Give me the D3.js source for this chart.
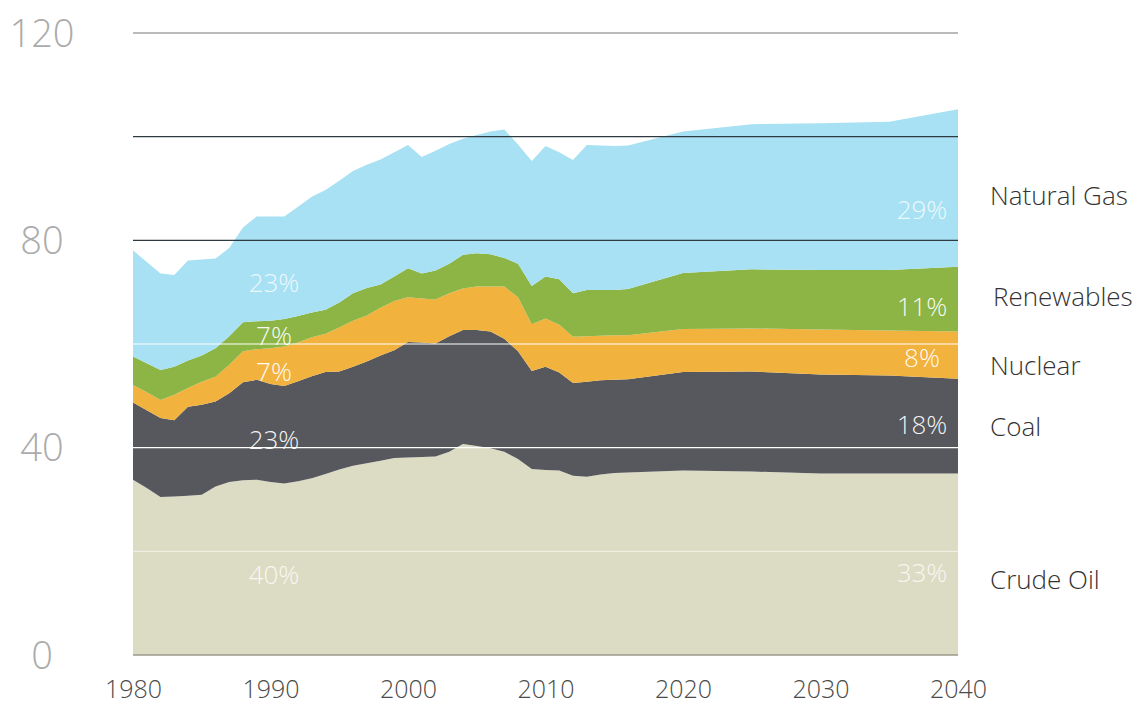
<!DOCTYPE html>
<html>
<head>
<meta charset="utf-8">
<script src="https://cdn.jsdelivr.net/npm/d3@7"></script>
<style>
  body { margin: 0; background: #fff; }
  text { font-family: "Open Sans", "Noto Sans", sans-serif; }
</style>
</head>
<body>
<div id="chart"></div>
<script>
// years: annual history, then projections every 5 years
let years = [1980,1981,1982,1983,1984,1985,1986,1987,1988,1989,
  1990,1991,1992,1993,1994,1995,1996,1997,1998,1999,
  2000,2001,2002,2003,2004,2005,2006,2007,2008,2009,
  2010,2011,2012,2013,2014,2015,2016,2020,2025,2030,2035,2040];

let crudeOil = [33.8,32.2,30.5,30.6,30.7,30.9,32.5,33.4,33.7,33.8,
  33.4,33.1,33.5,34.1,34.9,35.8,36.5,37.0,37.5,38.0,
  38.1,38.2,38.3,39.2,40.7,40.3,39.9,39.2,37.8,35.9,
  35.7,35.6,34.6,34.4,34.8,35.1,35.2,35.6,35.4,35.0,35.0,35.0];
let coal = [14.9,15.0,15.2,14.7,17.2,17.4,16.4,17.1,18.9,19.3,
  18.9,18.8,19.3,19.7,19.7,18.9,19.1,19.6,20.3,20.8,
  22.3,22.1,21.8,22.3,22.0,22.4,22.5,21.8,20.8,18.9,
  19.9,18.9,17.9,18.3,18.2,18.0,18.0,19.0,19.3,19.1,18.9,18.3];
let nuclear = [3.4,3.5,3.5,4.9,3.6,4.4,4.8,5.5,6.0,5.9,
  6.9,7.6,7.5,7.5,7.4,8.5,8.9,8.9,9.2,9.5,
  8.6,8.5,8.5,8.3,8.0,8.4,8.7,10.1,10.4,9.0,
  9.3,9.2,8.9,8.8,8.6,8.6,8.5,8.3,8.3,8.7,8.7,9.1];
let renewables = [5.5,5.6,5.8,5.4,5.3,5.1,5.5,5.5,5.6,5.4,
  5.3,5.3,5.1,4.8,4.6,4.8,5.3,5.3,4.5,4.7,
  5.6,4.8,5.6,5.7,6.5,6.4,6.2,5.5,6.5,7.4,
  8.1,8.8,8.4,8.9,8.8,8.7,8.9,10.8,11.4,11.5,11.7,12.5];
let naturalGas = [20.5,19.5,18.6,17.7,19.3,18.5,17.3,17.0,18.3,20.2,
  20.1,19.8,21.1,22.3,23.1,23.5,23.6,23.8,24.1,24.0,
  23.8,22.5,23.1,23.1,22.4,22.8,23.7,24.8,23.0,24.1,
  25.2,24.5,25.7,28.0,27.9,27.8,27.7,27.3,28.0,28.3,28.6,30.4];

let seriesNames = ["Crude Oil", "Coal", "Nuclear", "Renewables", "Natural Gas"];
let seriesColors = ["#dcdbc3", "#56585d", "#f2b23e", "#8cb545", "#a7e1f3"];
let sharesStart = ["40%", "23%", "7%", "7%", "23%"];
let sharesEnd = ["33%", "18%", "8%", "11%", "29%"];
let yTicks = [0, 40, 80, 120];
let xTicks = [1980, 1990, 2000, 2010, 2020, 2030, 2040];

let svgWidth = 1142;
let svgHeight = 707;

let svg = d3.select("#chart")
  .append("svg")
  .attr("width", svgWidth)
  .attr("height", svgHeight);

let xScale = d3.scaleLinear().domain([1980, 2040]).range([133, 958]);
let yScale = d3.scaleLinear().domain([0, 120]).range([655, 33]);

// build a table for the stack
let allSeries = [crudeOil, coal, nuclear, renewables, naturalGas];
let table = years.map((yr, i) => {
  let row = { year: yr };
  seriesNames.forEach((n, k) => row[n] = allSeries[k][i]);
  return row;
});

let stacked = d3.stack().keys(seriesNames)(table);

let area = d3.area()
  .x(d => xScale(d.data.year))
  .y0(d => yScale(d[0]))
  .y1(d => yScale(d[1]));

svg.append("g").selectAll("path")
  .data(stacked)
  .enter()
  .append("path")
  .attr("d", area)
  .attr("fill", (d, i) => seriesColors[i]);

// gridlines drawn over the areas: dark at the top, white inside the stack
let gridVals = [20, 40, 60, 80, 100, 120];
svg.append("g").selectAll("line")
  .data(gridVals)
  .enter()
  .append("line")
  .attr("x1", xScale(1980))
  .attr("x2", xScale(2040))
  .attr("y1", d => yScale(d))
  .attr("y2", d => yScale(d))
  .attr("stroke", d => d >= 80 ? (d == 120 ? "#777" : "#2f3a40") : "#ffffff")
  .attr("stroke-width", d => d == 20 ? 0.8 : 1.1)
  .attr("stroke-opacity", d => d == 20 ? 0.8 : 1);

// baseline
svg.append("line")
  .attr("x1", xScale(1980))
  .attr("x2", xScale(2040))
  .attr("y1", yScale(0))
  .attr("y2", yScale(0))
  .attr("stroke", "#9a9a8a")
  .attr("stroke-width", 1.5);

// y axis labels
let yAxis = d3.axisLeft(yScale).tickValues(yTicks).tickSize(0).tickPadding(0);
let yG = svg.append("g").attr("transform", "translate(42,0)").call(yAxis);
yG.select(".domain").remove();
yG.selectAll("text")
  .attr("text-anchor", "middle")
  .attr("font-size", "38px")
  .attr("font-weight", 300)
  .attr("fill", "#ababab")
  .attr("dy", "0.35em");

// x axis labels
let xAxis = d3.axisBottom(xScale).tickValues(xTicks).tickFormat(d3.format("d")).tickSize(0).tickPadding(0);
let xG = svg.append("g").attr("transform", "translate(0,698)").call(xAxis);
xG.select(".domain").remove();
xG.selectAll("text")
  .attr("font-size", "25px")
  .attr("font-weight", 300)
  .attr("fill", "#4a4a4a")
  .attr("dy", "0");

// share labels around 1990 (inside each layer)
let startY = [575, 440, 372, 336, 283];
svg.append("g").selectAll("text")
  .data(sharesStart)
  .enter()
  .append("text")
  .attr("x", 274)
  .attr("y", (d, i) => startY[i])
  .attr("text-anchor", "middle")
  .attr("dy", "0.36em")
  .attr("font-size", "26px")
  .attr("font-weight", 300)
  .attr("fill", "#ffffff")
  .attr("fill-opacity", (d, i) => i == 0 || i == 4 ? 0.8 : 0.95)
  .text(d => d);

// share labels near 2040
let endY = [573, 425, 358, 307, 210];
svg.append("g").selectAll("text")
  .data(sharesEnd)
  .enter()
  .append("text")
  .attr("x", 922)
  .attr("y", (d, i) => endY[i])
  .attr("text-anchor", "middle")
  .attr("dy", "0.36em")
  .attr("font-size", "26px")
  .attr("font-weight", 300)
  .attr("fill", "#ffffff")
  .attr("fill-opacity", (d, i) => i == 0 || i == 4 ? 0.8 : 0.95)
  .text(d => d);

// series names on the right
let nameY = [580, 427, 366, 297, 196];
let nameX = [990, 990, 990, 993, 990];
svg.append("g").selectAll("text")
  .data(seriesNames)
  .enter()
  .append("text")
  .attr("x", (d, i) => nameX[i])
  .attr("y", (d, i) => nameY[i])
  .attr("dy", "0.36em")
  .attr("font-size", "26px")
  .attr("font-weight", 300)
  .attr("fill", "#333")
  .text(d => d);
</script>
</body>
</html>
